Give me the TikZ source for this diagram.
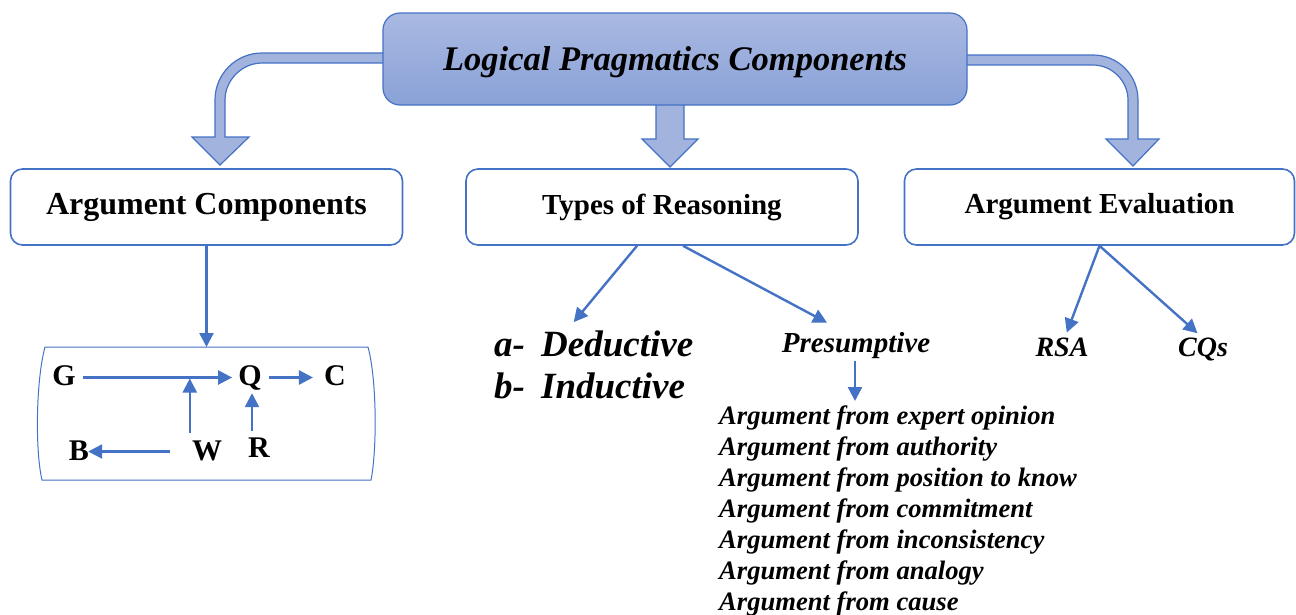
\documentclass[tikz,border=0pt]{standalone}
\usepackage{fontspec}
\setmainfont{Liberation Serif}
\usetikzlibrary{arrows.meta,positioning}

\definecolor{lineblue}{HTML}{4472C4}
\definecolor{arrowfill}{HTML}{A2B3DE}
\definecolor{toptop}{HTML}{A9B9E1}
\definecolor{topbot}{HTML}{8AA2D8}

\tikzset{
  box/.style={draw=lineblue, line width=1.6pt, rounded corners=12pt, fill=white,
    minimum width=392pt, minimum height=76pt, font=\fontsize{29}{34}\selectfont\bfseries},
  lnk/.style={draw=lineblue, line width=2.4pt, -{Triangle[length=14pt,width=14pt]}},
  blk/.style={draw=lineblue, line width=1.2pt, fill=arrowfill},
  letter/.style={font=\fontsize{30}{34}\selectfont\bfseries, inner sep=2pt, text height=21pt, text depth=0pt},
  itbf/.style={font=\fontsize{#1}{#1}\selectfont\bfseries\itshape, inner sep=0pt},
}

\begin{document}
\begin{tikzpicture}[x=1pt,y=1pt,yscale=-1,xscale=1]
\useasboundingbox (0,0) rectangle (1296,614);

%Shape: Bent Arrow left
\draw[blk] (390,63) -- (262,63) .. controls (242,63) and (225,80) .. (225,100) -- (225,137) -- (249,137) -- (220,165) -- (192,137) -- (215,137) -- (215,100) .. controls (215,74) and (236,53) .. (262,53) -- (390,53) -- cycle ;
%Shape: Bent Arrow right
\draw[blk] (960,55) -- (1093,55) .. controls (1118,55) and (1138,75) .. (1138,100) -- (1138,139) -- (1159,139) -- (1133,166) -- (1106,139) -- (1128,139) -- (1128,100) .. controls (1128,81) and (1112,65) .. (1093,65) -- (960,65) -- cycle ;
%Shape: Down Arrow
\draw[blk] (656,100) -- (656,139) -- (642,139) -- (670,167) -- (698,139) -- (684,139) -- (684,100) -- cycle ;

% Title Node
\node[draw=lineblue, line width=1.2pt, rounded corners=17pt, top color=toptop, bottom color=topbot,
  minimum width=584pt, minimum height=92pt, text depth=0pt, font=\fontsize{34.5}{40}\selectfont\bfseries\itshape] (lpc) at (675,59) {Logical Pragmatics Components};

% Box Nodes
\node[box, font=\fontsize{32}{36}\selectfont\bfseries] (argc) at (206.5,207) {Argument Components};
\node[box] (types) at (662,207) {Types of Reasoning};
\node[box, minimum width=390pt] (eval) at (1099.5,207) {Argument Evaluation};

%Shape: Bracket Box
\draw[lineblue, line width=1pt] (45,347) -- (368,347) .. controls (377,380) and (377,450) .. (371,480) -- (42,480) .. controls (35,450) and (36,380) .. (45,347) -- cycle ;
\coordinate (acin) at (206.5,347);

% Letter Nodes
\node[letter] (G) at (64,374.5) {G};
\node[letter] (Q) at (250,374.5) {Q};
\node[letter] (C) at (335,374.5) {C};
\node[letter] (B) at (79,449.5) {B};
\node[letter] (W) at (207,449.5) {W};
\node[letter] (R) at (259,446.5) {R};

% Text Node
\node[itbf=37, anchor=base west] (ded) at (494,356) {\makebox[47pt][l]{a-}Deductive};
\node[itbf=37, anchor=base west] (ind) at (494,398) {\makebox[47pt][l]{b-}Inductive};
\node[itbf=29, anchor=base] (pres) at (856,352) {Presumptive};
\node[itbf=26.6, anchor=north west, align=left, font=\fontsize{26.6}{31}\selectfont\bfseries\itshape] (list) at (719,406) {Argument from expert opinion\\
Argument from authority\\
Argument from position to know\\
Argument from commitment\\
Argument from inconsistency\\
Argument from analogy\\
Argument from cause};
\node[itbf=28, anchor=base] (rsa) at (1062,356) {RSA};
\node[itbf=28, anchor=base] (cqs) at (1203,356) {CQs};

%Straight Lines
\draw[lnk] (argc.south) -- (acin);
\draw[lnk, shorten <=5pt, shorten >=4pt] ([yshift=3]G.east) -- ([yshift=3]Q.west);
\draw[lnk, shorten <=5pt, shorten >=9pt] ([yshift=3]Q.east) -- ([yshift=3]C.west);
\draw[lnk, shorten <=4pt, shorten >=4pt] (W.north west) -- (W.north west |- G.east);
\draw[lnk, shorten <=3pt, shorten >=6pt] ([xshift=-7]R.north) -- ([xshift=-7]R.north |- Q.south);
\draw[lnk, shorten <=20pt, shorten >=-3pt] ([yshift=2]W.west) -- ([yshift=2]B.east);

%Straight Lines
\draw[lnk] ([xshift=-25]types.south) -- ([xshift=-20,yshift=-8]ded.north);
\draw[lnk] ([xshift=21]types.south) -- ([xshift=-29,yshift=-9]pres.north);
\draw[lnk, shorten <=3pt, shorten >=5pt] ([xshift=-1]pres.south) -- ([xshift=-1]pres.south |- list.north);
\draw[lnk, shorten >=5pt] (eval.south) -- ([xshift=3]rsa.north);
\draw[lnk, shorten >=6pt] (eval.south) -- ([xshift=-1]cqs.north);

\end{tikzpicture}
\end{document}
